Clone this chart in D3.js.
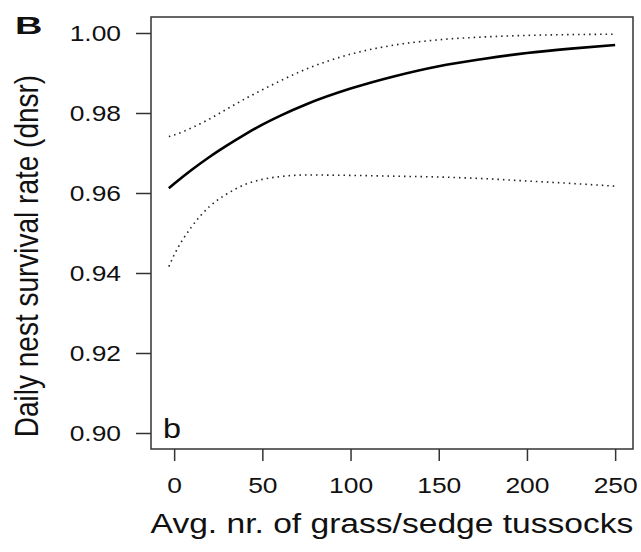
<!DOCTYPE html>
<html>
<head>
<meta charset="utf-8">
<script src="https://cdn.jsdelivr.net/npm/d3@7"></script>
<style>
  body { margin: 0; background: #fff; }
  text { font-family: 'Liberation Sans', Arial, sans-serif; fill: #111; }
</style>
</head>
<body>
<svg id="chart" width="641" height="552"></svg>
<script>
// nr. of tussocks at which the fitted values were read
const tussocks = [-3, 0, 10, 20, 30, 40, 50, 60, 75, 100, 125, 150, 175, 200, 225, 250];
// fitted daily nest survival rate
const dnsr = [0.9612, 0.9623, 0.9658, 0.9690, 0.9719, 0.9746, 0.9771, 0.9793, 0.9822, 0.9861, 0.9892, 0.9917, 0.9935, 0.9950, 0.9961, 0.9970];
// 95% confidence limits
const upper = [0.9741, 0.9745, 0.9763, 0.9785, 0.9810, 0.9835, 0.9858, 0.9880, 0.9910, 0.9947, 0.9970, 0.9983, 0.9990, 0.9994, 0.9996, 0.9997];
const lower = [0.9416, 0.9445, 0.9516, 0.9566, 0.9598, 0.9621, 0.9634, 0.9641, 0.9645, 0.9644, 0.9642, 0.9640, 0.9636, 0.9630, 0.9624, 0.9617];

const xTicks = [0, 50, 100, 150, 200, 250];
const yTicks = [0.90, 0.92, 0.94, 0.96, 0.98, 1.00];

const svg = d3.select('#chart');
const sx = 1.2; // horizontal stretch of all lettering in the original

// R-style 4% padding around the data ranges
const xDom = [-13.12, 260.12],
  yDom = [0.896, 1.004];

const x = d3.scaleLinear().domain(xDom).range([151, 633]);
const y = d3.scaleLinear().domain(yDom).range([449, 17]);

const stroke = '#333';

// x axis
const gx = svg.append('g')
  .attr('transform', `translate(0,${y(yDom[0])})`)
  .call(d3.axisBottom(x).tickValues(xTicks).tickSize(12).tickPadding(16).tickFormat(d3.format('d')));
gx.select('.domain').remove();
gx.selectAll('.tick line').attr('stroke', stroke).attr('stroke-width', 1.5);
gx.selectAll('.tick text')
  .attr('font-size', '22px')
  .attr('fill', '#111')
  .attr('transform', `scale(${sx},1)`);

// y axis
const gy = svg.append('g')
  .attr('transform', `translate(${x(xDom[0])},0)`)
  .call(d3.axisLeft(y).tickValues(yTicks).tickSize(15).tickPadding(15).tickFormat(d3.format('.2f')));
gy.select('.domain').remove();
gy.selectAll('.tick line').attr('stroke', stroke).attr('stroke-width', 1.5);
gy.selectAll('.tick text')
  .attr('font-size', '22px')
  .attr('fill', '#111')
  .attr('x', -30 / sx)
  .attr('transform', `scale(${sx},1)`);

// frame
svg.append('rect')
  .attr('x', x(xDom[0]))
  .attr('y', y(yDom[1]))
  .attr('width', x(xDom[1]) - x(xDom[0]))
  .attr('height', y(yDom[0]) - y(yDom[1]))
  .attr('fill', 'none')
  .attr('stroke', stroke)
  .attr('stroke-width', 1.5);

const line = vals => d3.line()
  .curve(d3.curveMonotoneX)
  .x((d, i) => x(tussocks[i]))
  .y(d => y(d))(vals);

svg.append('path')
  .attr('d', line(upper))
  .attr('fill', 'none')
  .attr('stroke', '#222')
  .attr('stroke-width', 1.6)
  .attr('stroke-dasharray', '1.5,4');

svg.append('path')
  .attr('d', line(lower))
  .attr('fill', 'none')
  .attr('stroke', '#222')
  .attr('stroke-width', 1.6)
  .attr('stroke-dasharray', '1.5,4');

svg.append('path')
  .attr('d', line(dnsr))
  .attr('fill', 'none')
  .attr('stroke', '#000')
  .attr('stroke-width', 2.6);

// axis titles
svg.append('text')
  .attr('transform', `translate(392,533) scale(${sx},1)`)
  .attr('text-anchor', 'middle')
  .attr('font-size', '28px')
  .text('Avg. nr. of grass/sedge tussocks');

svg.append('text')
  .attr('transform', `translate(38,256) scale(${sx},1) rotate(-90)`)
  .attr('text-anchor', 'middle')
  .attr('font-size', '28px')
  .text('Daily nest survival rate (dnsr)');

// panel letters
svg.append('text')
  .attr('transform', `translate(15,34) scale(1.65,1)`)
  .attr('font-size', '23px')
  .attr('font-weight', 'bold')
  .text('B');

svg.append('text')
  .attr('transform', `translate(163,438) scale(${sx},1)`)
  .attr('font-size', '27px')
  .text('b');
</script>
</body>
</html>
